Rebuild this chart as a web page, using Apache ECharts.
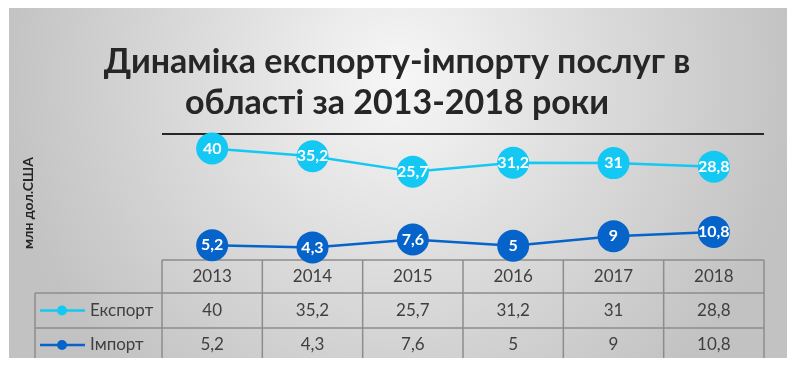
<!DOCTYPE html>
<html><head><meta charset="utf-8">
<script src="https://cdn.jsdelivr.net/npm/echarts@6/dist/echarts.min.js"></script>
<style>html,body{margin:0;padding:0;background:#fff}#c{width:797px;height:370px}</style>
</head><body><div id="c"></div>
<script>
const years = ['2013','2014','2015','2016','2017','2018'];
const exportVals = [40, 35.2, 25.7, 31.2, 31, 28.8];
const importVals = [5.2, 4.3, 7.6, 5, 9, 10.8];
const seriesNames = ['Експорт', 'Імпорт'];
const titleLines = ['Динаміка експорту-імпорту послуг в', 'області за 2013-2018 роки'];
const yAxisName = 'млн дол.США';

const colExport = '#14c8f4';
const colImport = '#0563c9';
const FONT = 'Lato, "Noto Sans", sans-serif';
const fmt = v => String(v).replace('.', ',');

const chart = echarts.init(document.getElementById('c'), null, {renderer: 'canvas'});
const grid = {left: 162, right: 33, top: 134, bottom: 110};

function mkSeries(name, data, color, yIdx) {
  return {
    name, type: 'line', data, yAxisIndex: yIdx,
    symbol: 'circle', symbolSize: 32,
    lineStyle: {color, width: 2.5},
    itemStyle: {color},
    label: {show: true, position: 'inside', color: '#fff', fontFamily: FONT,
      fontWeight: 'bold', fontSize: 16, formatter: p => fmt(p.value)},
    emphasis: {disabled: true},
    clip: false, animation: false, z: 5
  };
}

chart.setOption({
  animation: false,
  grid,
  xAxis: {type: 'category', data: years, boundaryGap: true,
    axisLine: {show: false}, axisTick: {show: false}, axisLabel: {show: false}, splitLine: {show: false}},
  yAxis: [
    {type: 'value', min: -29, max: 49, show: false},
    {type: 'value', min: -1, max: 52, show: false}
  ],
  series: [
    mkSeries(seriesNames[0], exportVals, colExport, 0),
    mkSeries(seriesNames[1], importVals, colImport, 1)
  ]
});

function build() {
  const centers = years.map((y, i) => chart.convertToPixel({xAxisIndex: 0}, i));
  const bw = centers[1] - centers[0];
  const bounds = centers.map(c => c - bw / 2).concat([centers[centers.length - 1] + bw / 2]);
  const x0 = bounds[0], x1 = bounds[bounds.length - 1];
  const yTop = 134, yHead = 260, yR1 = 293, yR2 = 328, yEnd = 358, xLeg = 35;
  const lineC = '#8c8c8c', txtC = '#404040';
  const g = [];
  g.push({type: 'rect', z: -10, silent: true,
    shape: {x: 9, y: 8, width: 778, height: 350},
    style: {fill: {type: 'radial', x: 0.5, y: 0.2, r: 1.15,
      colorStops: [{offset: 0, color: '#f7f7f7'}, {offset: 0.45, color: '#dedede'}, {offset: 1, color: '#c2c2c2'}]}}});
  titleLines.forEach((t, i) => g.push({type: 'text', z: 1, x: 397, y: 62 + i * 41,
    style: {text: t, fill: '#262626', font: 'bold 34px ' + FONT, align: 'center', verticalAlign: 'middle'}}));
  g.push({type: 'line', z: 1, shape: {x1: x0, y1: yTop, x2: x1, y2: yTop}, style: {stroke: '#262626', lineWidth: 2}});
  const L = (a, b, c, d) => g.push({type: 'line', z: 1, shape: {x1: a, y1: b, x2: c, y2: d}, style: {stroke: lineC, lineWidth: 1.5}});
  L(x0, yHead, x1, yHead);
  L(xLeg, yR1, x1, yR1);
  L(xLeg, yR2, x1, yR2);
  L(xLeg, yR1, xLeg, yEnd);
  bounds.forEach(b => L(b, yHead, b, yEnd));
  const T = (t, x, y, align) => g.push({type: 'text', z: 2, x, y,
    style: {text: t, fill: txtC, font: '17px ' + FONT, align: align || 'center', verticalAlign: 'middle'}});
  centers.forEach((c, i) => {
    T(years[i], c, (yHead + yR1) / 2);
    T(fmt(exportVals[i]), c, (yR1 + yR2) / 2);
    T(fmt(importVals[i]), c, (yR2 + yEnd) / 2 + 2);
  });
  [[colExport, (yR1 + yR2) / 2, seriesNames[0]], [colImport, (yR2 + yEnd) / 2 + 2, seriesNames[1]]].forEach(([col, y, name]) => {
    g.push({type: 'line', z: 2, shape: {x1: 40, y1: y, x2: 85, y2: y}, style: {stroke: col, lineWidth: 2.5}});
    g.push({type: 'circle', z: 2, shape: {cx: 62, cy: y, r: 5}, style: {fill: col}});
    T(name, 90, y, 'left');
  });
  g.push({type: 'text', z: 2, x: 28, y: 203, rotation: Math.PI / 2,
    style: {text: yAxisName, fill: '#262626', font: 'bold 14px ' + FONT, align: 'center', verticalAlign: 'middle'}});
  chart.setOption({graphic: {elements: g}});
}
build();
</script></body></html>
